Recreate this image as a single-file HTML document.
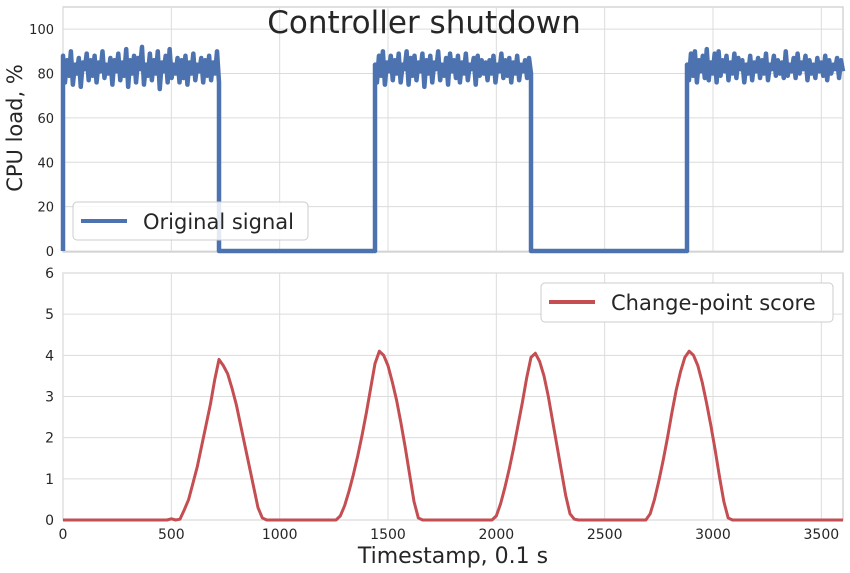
<!DOCTYPE html>
<html><head><meta charset="utf-8"><style>
body{margin:0;background:#fff;}
svg text{font-family:"DejaVu Sans","Liberation Sans",sans-serif;fill:#262626;}
</style></head><body>
<svg id="c" width="850" height="568" xmlns="http://www.w3.org/2000/svg"></svg>
<script>
const xTicks=[0,500,1000,1500,2000,2500,3000,3500];
const topTicks=[0,20,40,60,80,100];
const botTicks=[0,1,2,3,4,5,6];
const onSegments=[[0,720],[1440,2160],[2880,3600]];
const noise1=[88,76,86,79,90,75,84,80,87,74,85,82,89,77,86,79,88,76,85,81,90,78,84,80,87,75,86,81,89,77,85,79,91,74,86,80,88,76,87,82,92,75,84,79,89,77,86,80,90,73,85,81,88,76,91,78,84,80,87,76,86,78,88,75,85,80,89,77,84,81,87,76,86,79,88,77,85,80,90,76];
const noise2=[84,76,88,79,90,75,85,81,88,77,86,80,89,76,84,82,90,75,87,79,88,77,85,81,89,74,86,80,88,76,85,82,90,77,84,79,87,75,89,81,86,78,88,76,85,80,89,77,84,82,87,75,88,79,86,80,85,77,86,80,88,76,84,81,89,78,86,79,87,76,85,80,88,77,84,81,86,78,87,80];
const noise3=[84,77,89,79,90,76,86,81,88,78,91,77,85,80,89,76,90,79,86,81,88,77,85,80,89,78,87,82,86,76,84,80,88,77,85,81,87,78,86,80,89,77,84,82,88,79,86,80,85,78,90,79,84,81,87,78,89,80,85,82,88,77,86,80,84,78,87,81,85,79,88,77,86,80,84,82,87,78,86,81];
const noises=[noise1,noise2,noise3];
const scoreX=[0,400,480,500,520,540,560,580,600,620,640,660,680,700,720,740,760,780,800,820,840,860,880,900,920,940,1260,1280,1300,1320,1340,1360,1380,1400,1420,1440,1460,1480,1500,1520,1540,1560,1580,1600,1620,1640,1660,1980,2000,2020,2040,2060,2080,2100,2120,2140,2160,2180,2200,2220,2240,2260,2280,2300,2320,2340,2360,2380,2690,2710,2730,2750,2770,2790,2810,2830,2850,2870,2890,2910,2930,2950,2970,2990,3010,3030,3050,3070,3090,3100,3600];
const scoreY=[0,0,0,0.03,0,0.02,0.25,0.5,0.9,1.3,1.8,2.3,2.8,3.4,3.9,3.75,3.55,3.2,2.8,2.3,1.8,1.3,0.8,0.3,0.05,0,0,0.1,0.35,0.7,1.1,1.55,2.05,2.6,3.2,3.8,4.1,4.0,3.75,3.35,2.9,2.35,1.75,1.1,0.45,0.05,0,0,0.1,0.4,0.8,1.25,1.75,2.3,2.85,3.45,3.95,4.05,3.85,3.5,3.0,2.4,1.8,1.2,0.6,0.15,0.02,0,0,0.15,0.5,0.95,1.45,2.0,2.6,3.15,3.6,3.95,4.1,4.0,3.75,3.35,2.85,2.3,1.7,1.05,0.45,0.05,0,0,0];

const svg=document.getElementById('c');
const NS='http://www.w3.org/2000/svg';
function mk(t,a,p){const e=document.createElementNS(NS,t);for(const k in a)e.setAttribute(k,a[k]);(p||svg).appendChild(e);return e;}
const X0=63,X1=843;
const xs=v=>X0+(X1-X0)*v/3600;
const T0=251,T1=7; const ty=v=>T0-(T0-T1)*v/110;
const B0=520,B1=273; const by=v=>B0-(B0-B1)*v/6;

let g=mk('g',{});
mk('rect',{x:X0,y:T1,width:X1-X0,height:T0-T1+1,fill:'#fff',stroke:'#cccccc','stroke-width':1.2},g);
xTicks.forEach(v=>{const l=mk('line',{x1:xs(v),x2:xs(v),y1:T1,y2:T0,stroke:'#dcdcdc','stroke-width':1},g);});
topTicks.forEach(v=>{const l=mk('line',{x1:X0,x2:X1,y1:ty(v),y2:ty(v),stroke:'#dcdcdc','stroke-width':1},g);
 const t=mk('text',{x:X0-9,y:ty(v)+5,'text-anchor':'end','font-size':13},g);t.textContent=v;});
let pts=[[0,0]];
onSegments.forEach((s,i)=>{const n=noises[i];const step=(s[1]-s[0])/(n.length-1);
 n.forEach((v,j)=>pts.push([s[0]+j*step,v]));
 if(s[1]<3600){pts.push([s[1],0]);const nxt=onSegments[i+1];pts.push([nxt[0],0]);}});
const sig=mk('polyline',{points:pts.map(p=>xs(p[0])+','+ty(p[1])).join(' '),fill:'none',stroke:'#4c72b0','stroke-width':4.5,'stroke-linejoin':'round'},g);

let t=mk('text',{x:424,y:33,'text-anchor':'middle','font-size':31},g);t.textContent='Controller shutdown';
t=mk('text',{x:0,y:0,'text-anchor':'middle','font-size':21,transform:'translate(22,128) rotate(-90)'},g);t.textContent='CPU load, %';
let lg=mk('g',{},g);
mk('rect',{x:73,y:202,width:235,height:38,rx:4,fill:'#fff','fill-opacity':0.85,stroke:'#cccccc'},lg);
mk('line',{x1:81,x2:127,y1:221,y2:221,stroke:'#4c72b0','stroke-width':4},lg);
t=mk('text',{x:143,y:229,'font-size':21},lg);t.textContent='Original signal';

g=mk('g',{});
mk('rect',{x:X0,y:B1,width:X1-X0,height:B0-B1,fill:'#fff',stroke:'#cccccc','stroke-width':1.2},g);
xTicks.forEach(v=>{const l=mk('line',{x1:xs(v),x2:xs(v),y1:B1,y2:B0,stroke:'#dcdcdc','stroke-width':1},g);
 const tt=mk('text',{x:xs(v),y:B0+19,'text-anchor':'middle','font-size':14},g);tt.textContent=v;});
botTicks.forEach(v=>{const l=mk('line',{x1:X0,x2:X1,y1:by(v),y2:by(v),stroke:'#dcdcdc','stroke-width':1},g);
 const tt=mk('text',{x:X0-9,y:by(v)+5,'text-anchor':'end','font-size':14},g);tt.textContent=v;});
const sc=mk('polyline',{points:scoreX.map((x,i)=>xs(x)+','+by(scoreY[i])).join(' '),fill:'none',stroke:'#c44e52','stroke-width':3,'stroke-linejoin':'round'},g);

lg=mk('g',{},g);
mk('rect',{x:541,y:283,width:292,height:39,rx:4,fill:'#fff',stroke:'#cccccc'},lg);
mk('line',{x1:549,x2:595,y1:302,y2:302,stroke:'#c44e52','stroke-width':4},lg);
t=mk('text',{x:611,y:310,'font-size':21},lg);t.textContent='Change-point score';
t=mk('text',{x:453,y:563,'text-anchor':'middle','font-size':22},g);t.textContent='Timestamp, 0.1 s';
</script>
</body></html>
